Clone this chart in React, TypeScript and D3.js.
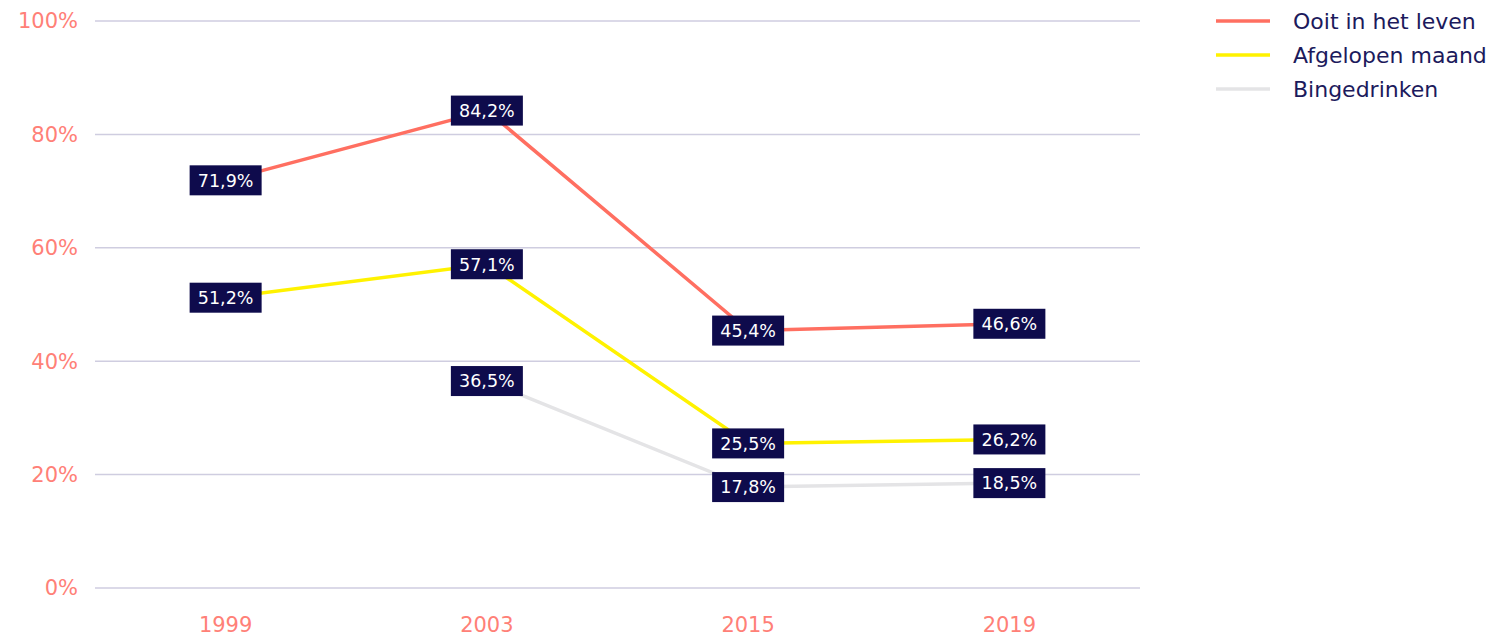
import React from "react"
import * as d3 from "d3"

const width = 1497
const height = 637

const years = ["1999", "2003", "2015", "2019"]
const ooit = [71.9, 84.2, 45.4, 46.6]
const maand = [51.2, 57.1, 25.5, 26.2]
const binge = [null, 36.5, 17.8, 18.5]
const yTicks = [0, 20, 40, 60, 80, 100]

const series = [
  { name: "Ooit in het leven", values: ooit, color: "#ff6f61" },
  { name: "Afgelopen maand", values: maand, color: "#fff200" },
  { name: "Bingedrinken", values: binge, color: "#e4e4e6" },
]

const fmt = (v: number) => v.toFixed(1).replace(".", ",") + "%"

export default function App() {
  const x = d3.scalePoint().domain(years).range([95, 1140]).padding(0.5)
  const y = d3.scaleLinear().domain([0, 100]).range([588, 21])

  const line = d3
    .line<number | null>()
    .defined(d => d != null)
    .x((_, i) => x(years[i]) as number)
    .y(d => y(d as number))

  return (
    <svg
      width={width}
      height={height}
      style={{ position: "absolute", left: 0, top: 0, fontFamily: "'DejaVu Sans', sans-serif" }}
    >
      <rect width={width} height={height} fill="#fff" />
      {yTicks.map(t => (
        <g key={t}>
          <line x1={95} x2={1140} y1={y(t)} y2={y(t)} stroke="#cfcde0" strokeWidth={1.5} />
          <text x={78} y={y(t)} dy="0.35em" textAnchor="end" fontSize={21} fill="#ff8077">
            {t}%
          </text>
        </g>
      ))}
      {years.map(yr => (
        <text key={yr} x={x(yr)} y={625} dy="0.35em" textAnchor="middle" fontSize={21} fill="#ff8077">
          {yr}
        </text>
      ))}
      {series.map(s => (
        <path key={s.name} d={line(s.values) || ""} fill="none" stroke={s.color} strokeWidth={3.5} />
      ))}
      {series.map(s =>
        s.values.map((v, i) =>
          v == null ? null : (
            <g key={s.name + i} transform={`translate(${x(years[i])},${y(v)})`}>
              <rect x={-36} y={-15} width={72} height={30} fill="#0e0b4c" />
              <text textAnchor="middle" dy="0.36em" fontSize={17.5} fill="#fff">
                {fmt(v)}
              </text>
            </g>
          )
        )
      )}
      {series.map((s, i) => (
        <g key={s.name} transform={`translate(1216,${21 + i * 34})`}>
          <line x1={0} x2={54} stroke={s.color} strokeWidth={3.5} />
          <text x={77} dy="0.35em" fontSize={22} fill="#1c1a5c">
            {s.name}
          </text>
        </g>
      ))}
    </svg>
  )
}
